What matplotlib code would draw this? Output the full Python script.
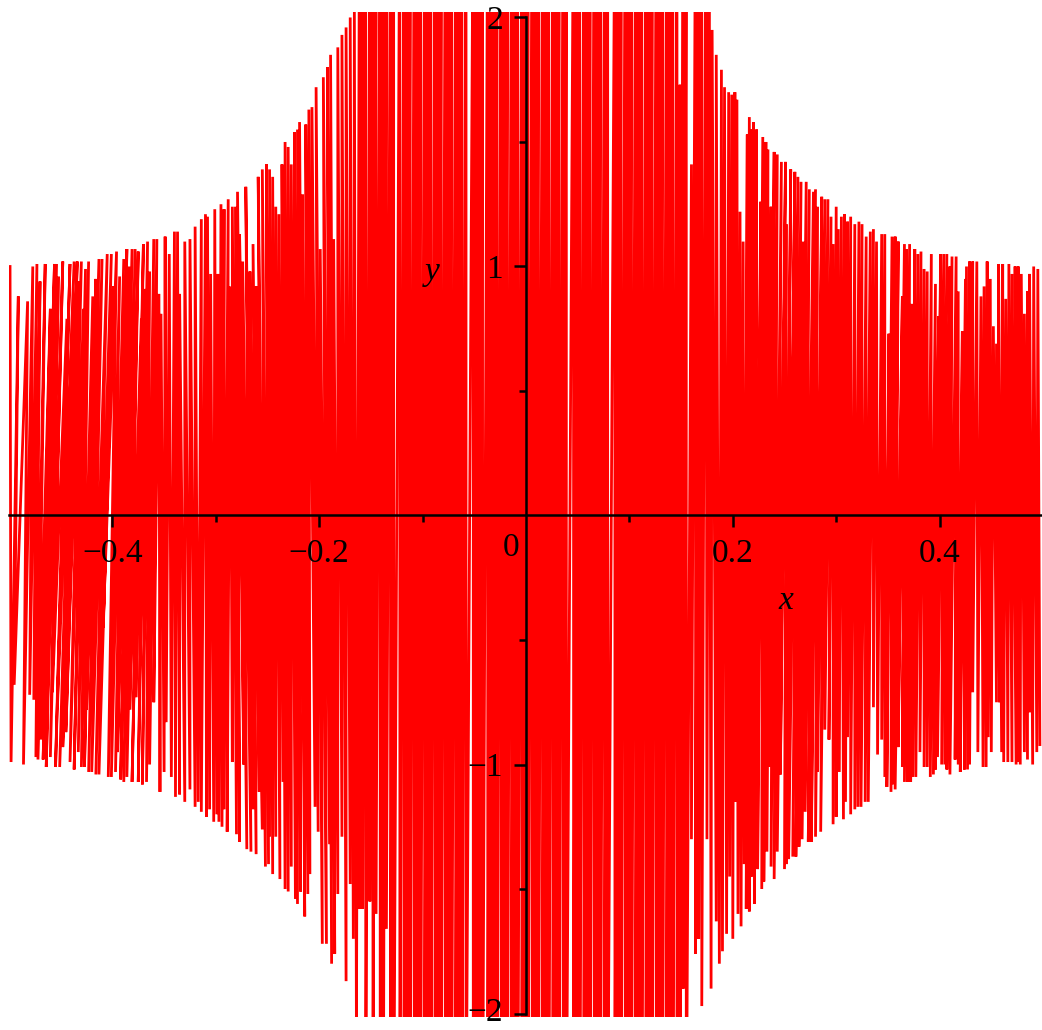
import matplotlib
matplotlib.use("Agg")
import matplotlib.pyplot as plt
from matplotlib.transforms import ScaledTranslation

# ---------------- data (data units) ----------------
# Turning points of the oscillating curve: upper ends (peaks) and lower ends
# (troughs), region by region from left to right.

left_edge_top_x = [-0.499, -0.491, -0.482, -0.477, -0.473, -0.470, -0.465, -0.460, -0.456, -0.454,
                   -0.452, -0.448, -0.444, -0.441, -0.437, -0.434, -0.432, -0.430, -0.428, -0.426,
                   -0.423, -0.419, -0.416, -0.413, -0.410, -0.405, -0.401, -0.399, -0.396, -0.393,
                   -0.389, -0.386, -0.384, -0.381, -0.378, -0.375, -0.372, -0.370, -0.368, -0.366,
                   -0.364, -0.360, -0.357, -0.355, -0.353, -0.349, -0.345, -0.340, -0.337, -0.335,
                   -0.330, -0.325, -0.320]
left_edge_top_y = [1.00, 0.88, 0.86, 1.00, 1.01, 0.94, 1.01, 0.83, 1.01, 1.01,
                   0.96, 1.02, 0.79, 1.01, 1.02, 1.02, 0.94, 1.02, 0.83, 0.99,
                   1.02, 0.88, 0.95, 1.03, 1.03, 1.05, 1.05, 0.92, 1.06, 0.96,
                   1.03, 1.07, 1.00, 1.07, 1.07, 1.06, 0.79, 1.09, 0.91, 1.10,
                   0.98, 1.11, 1.11, 0.89, 0.81, 1.12, 1.05, 1.14, 1.14, 0.89,
                   1.10, 1.11, 1.16]
left_edge_bot_x = [-0.498, -0.495, -0.486, -0.480, -0.476, -0.474, -0.472, -0.469, -0.467, -0.464,
                   -0.460, -0.458, -0.455, -0.453, -0.451, -0.448, -0.445, -0.441, -0.437, -0.433,
                   -0.430, -0.427, -0.425, -0.423, -0.420, -0.416, -0.413, -0.409, -0.404, -0.401,
                   -0.397, -0.395, -0.392, -0.389, -0.386, -0.383, -0.381, -0.377, -0.375, -0.371,
                   -0.367, -0.364, -0.360, -0.354, -0.350, -0.348, -0.343, -0.339, -0.335, -0.330,
                   -0.325, -0.320, -0.317]
left_edge_bot_y = [-0.99, -0.68, -1.00, -0.72, -0.74, -0.97, -0.98, -0.90, -0.98, -1.01,
                   -0.97, -0.71, -1.01, -0.75, -1.01, -0.93, -0.87, -0.99, -1.02, -0.95,
                   -1.01, -1.01, -0.78, -1.03, -1.03, -1.04, -1.04, -0.45, -1.05, -1.05,
                   -1.03, -0.95, -1.06, -1.07, -1.05, -0.78, -1.07, -0.73, -1.07, -1.08,
                   -1.07, -1.00, -0.75, -1.11, -1.03, -0.83, -1.05, -1.13, -1.12, -1.15,
                   -1.10, -1.17, -1.15]

left_mid_top_x = [-0.314, -0.310, -0.308, -0.305, -0.301, -0.298, -0.295, -0.292, -0.288, -0.286,
                  -0.284, -0.281, -0.279, -0.277, -0.274, -0.271, -0.267, -0.264, -0.261, -0.259,
                  -0.255, -0.251, -0.248, -0.245, -0.242, -0.239, -0.236, -0.233, -0.230, -0.227,
                  -0.224, -0.221, -0.219, -0.216, -0.213, -0.210, -0.207, -0.203, -0.199, -0.196,
                  -0.192, -0.189, -0.186, -0.182, -0.178, -0.174, -0.170, -0.166]
left_mid_top_y = [1.19, 1.21, 1.20, 0.97, 1.23, 0.97, 1.25, 1.23, 1.27, 0.92,
                  1.24, 1.24, 1.30, 1.13, 1.02, 1.32, 0.98, 1.09, 0.92, 1.36,
                  1.39, 1.41, 1.39, 1.36, 1.24, 1.21, 1.41, 1.50, 1.48, 1.41,
                  1.54, 1.55, 1.58, 1.29, 1.57, 1.63, 1.64, 1.72, 1.07, 1.76,
                  1.80, 1.85, 1.11, 1.88, 1.93, 1.96, 2.00, 2.03]
left_mid_bot_x = [-0.314, -0.309, -0.306, -0.302, -0.299, -0.297, -0.294, -0.292, -0.289, -0.284,
                  -0.280, -0.277, -0.273, -0.270, -0.266, -0.264, -0.261, -0.258, -0.255, -0.252,
                  -0.249, -0.248, -0.245, -0.242, -0.238, -0.235, -0.233, -0.230, -0.227, -0.223,
                  -0.221, -0.218, -0.214, -0.211, -0.209, -0.204, -0.201, -0.197, -0.193, -0.190,
                  -0.188, -0.185, -0.182, -0.178, -0.174, -0.170, -0.167, -0.164]
left_mid_bot_y = [-1.19, -1.21, -1.18, -1.23, -1.20, -1.23, -1.25, -1.18, -1.27, -0.99,
                  -1.28, -1.31, -1.00, -1.34, -1.35, -1.18, -1.36, -1.11, -1.26, -1.41,
                  -1.40, -1.29, -1.44, -1.29, -1.46, -1.07, -1.50, -1.51, -1.41, -1.54,
                  -1.56, -1.51, -1.61, -1.52, -1.44, -1.17, -1.27, -1.72, -1.72, -1.32,
                  -1.80, -1.76, -1.52, -1.29, -1.87, -1.48, -1.70, -2.10]

# central band: the curve runs off the view (|y| > 2) almost everywhere
center_x = [-0.161, -0.158, -0.155, -0.151, -0.148, -0.145, -0.141, -0.138, -0.135, -0.131,
            -0.128, -0.122, -0.118, -0.115, -0.112, -0.108, -0.105, -0.102, -0.098, -0.095,
            -0.092, -0.088, -0.085, -0.082, -0.078, -0.075, -0.072, -0.068, -0.065, -0.062,
            -0.058, -0.051, -0.048, -0.045, -0.042, -0.037, -0.034, -0.031, -0.028, -0.024,
            -0.021, -0.018, -0.014, -0.011, -0.008, -0.004, -0.001, 0.002, 0.006, 0.009,
            0.012, 0.016, 0.019, 0.022, 0.026, 0.029, 0.032, 0.036, 0.039, 0.046,
            0.049, 0.052, 0.056, 0.059, 0.062, 0.066, 0.069, 0.072, 0.076, 0.079,
            0.086, 0.089, 0.092, 0.096, 0.099, 0.102, 0.106, 0.109, 0.112, 0.116,
            0.119, 0.122, 0.126, 0.129, 0.132, 0.136, 0.139, 0.142, 0.146, 0.149,
            0.152, 0.155, 0.160, 0.164, 0.167, 0.170]
center_top = [2.6, 2.6, 2.6, 2.6, 2.6, 2.6, 2.6, 2.6, 2.6, 2.6,
              2.6, 2.6, 2.6, 2.6, 2.6, 2.6, 2.6, 2.6, 2.6, 2.6,
              2.6, 2.6, 2.6, 2.6, 2.6, 2.6, 2.6, 2.6, 2.6, 2.6,
              2.6, 2.6, 2.6, 2.6, 2.6, 2.6, 2.6, 2.6, 2.6, 2.6,
              2.6, 2.6, 2.6, 2.6, 2.6, 2.6, 2.6, 2.6, 2.6, 2.6,
              2.6, 2.6, 2.6, 2.6, 2.6, 2.6, 2.6, 2.6, 2.6, 2.6,
              2.6, 2.6, 2.6, 2.6, 2.6, 2.6, 2.6, 2.6, 2.6, 2.6,
              2.6, 2.6, 2.6, 2.6, 2.6, 2.6, 2.6, 2.6, 2.6, 2.6,
              2.6, 2.6, 2.6, 2.6, 2.6, 2.6, 2.6, 2.6, 2.6, 1.73,
              2.6, 2.6, 1.41, 2.6, 2.6, 2.6]
center_bot = [-1.58, -1.58, -2.6, -1.55, -2.6, -1.60, -2.6, -2.6, -1.66, -2.6,
              -2.6, -2.6, -2.6, -2.6, -2.6, -2.6, -2.6, -2.6, -2.6, -2.6,
              -2.6, -2.6, -2.6, -2.6, -2.6, -2.6, -2.6, -2.6, -2.6, -2.6,
              -2.6, -2.6, -2.6, -2.6, -2.6, -2.6, -2.6, -2.6, -2.6, -2.6,
              -2.6, -2.6, -2.6, -2.6, -2.6, -2.6, -2.6, -2.6, -2.6, -2.6,
              -2.6, -2.6, -2.6, -2.6, -2.6, -2.6, -2.6, -2.6, -2.6, -2.6,
              -2.6, -2.6, -2.6, -2.6, -2.6, -2.6, -2.6, -2.6, -2.6, -2.6,
              -2.6, -2.6, -2.6, -2.6, -2.6, -2.6, -2.6, -2.6, -2.6, -2.6,
              -2.6, -2.6, -2.6, -2.6, -2.6, -2.6, -2.6, -2.6, -2.6, -2.6,
              -1.90, -2.6, -1.30, -1.76, -1.70, -1.97]

right_mid_top_x = [0.174, 0.177, 0.180, 0.184, 0.189, 0.192, 0.196, 0.199, 0.202, 0.204,
                   0.207, 0.210, 0.214, 0.216, 0.218, 0.220, 0.221, 0.223, 0.227, 0.229,
                   0.232, 0.234, 0.237, 0.240, 0.243, 0.247, 0.251, 0.252, 0.256, 0.260,
                   0.263, 0.266, 0.268, 0.271, 0.274, 0.278, 0.280, 0.282, 0.286, 0.289,
                   0.292, 0.295, 0.297, 0.300, 0.302, 0.305, 0.308, 0.311, 0.314, 0.318,
                   0.322, 0.325, 0.329, 0.333, 0.336, 0.339]
right_mid_top_y = [2.60, 2.20, 1.95, 1.85, 1.79, 1.72, 1.70, 1.69, 1.70, 1.67,
                   1.22, 1.10, 1.53, 1.60, 1.55, 1.58, 1.54, 1.55, 1.26, 1.52,
                   1.50, 1.47, 1.24, 1.46, 1.45, 1.42, 1.42, 1.17, 1.39, 1.38,
                   1.36, 1.34, 1.10, 1.34, 1.31, 1.30, 1.31, 1.24, 1.28, 1.27,
                   1.27, 1.20, 1.09, 1.24, 1.15, 1.20, 1.21, 1.18, 1.20, 1.17,
                   1.18, 1.17, 1.12, 1.14, 1.15, 1.10]
right_mid_bot_x = [0.175, 0.179, 0.184, 0.187, 0.190, 0.194, 0.197, 0.200, 0.202, 0.205,
                   0.208, 0.211, 0.213, 0.216, 0.218, 0.220, 0.221, 0.222, 0.224, 0.228,
                   0.230, 0.233, 0.235, 0.237, 0.240, 0.243, 0.246, 0.250, 0.252, 0.254,
                   0.258, 0.261, 0.264, 0.267, 0.270, 0.273, 0.276, 0.280, 0.282, 0.285,
                   0.289, 0.293, 0.297, 0.300, 0.303, 0.307, 0.309, 0.311, 0.314, 0.318,
                   0.321, 0.324, 0.328, 0.331, 0.336, 0.340]
right_mid_bot_y = [-1.30, -1.90, -1.63, -1.80, -1.75, -1.68, -1.45, -1.70, -1.15, -1.60,
                   -1.65, -1.40, -1.58, -1.59, -1.45, -1.30, -1.56, -1.26, -1.42, -1.50,
                   -1.47, -1.35, -1.01, -1.41, -1.46, -1.35, -1.04, -1.42, -1.40, -1.38,
                   -1.37, -1.37, -1.33, -1.30, -1.19, -1.31, -1.31, -1.29, -1.03, -1.27,
                   -0.86, -0.90, -1.24, -1.21, -1.03, -1.22, -1.15, -0.89, -1.20, -1.18,
                   -1.17, -1.17, -1.15, -1.15, -0.77, -0.96]

right_edge_top_x = [0.344, 0.347, 0.351, 0.354, 0.357, 0.360, 0.364, 0.366, 0.368, 0.371,
                    0.373, 0.376, 0.379, 0.382, 0.385, 0.388, 0.392, 0.396, 0.399, 0.401,
                    0.404, 0.407, 0.410, 0.412, 0.416, 0.418, 0.422, 0.425, 0.426, 0.429,
                    0.432, 0.436, 0.440, 0.443, 0.446, 0.449, 0.452, 0.455, 0.457, 0.461,
                    0.464, 0.467, 0.470, 0.473, 0.476, 0.479, 0.482, 0.485, 0.487, 0.491,
                    0.495]
right_edge_top_y = [1.13, 1.13, 0.73, 1.12, 1.12, 1.10, 0.88, 1.09, 1.07, 1.09,
                    0.85, 1.07, 1.05, 1.06, 0.99, 0.98, 1.05, 0.93, 0.80, 1.05,
                    1.05, 1.05, 1.00, 1.04, 1.04, 0.90, 0.74, 0.95, 1.00, 1.02,
                    1.02, 1.02, 0.88, 0.92, 1.02, 0.95, 0.76, 0.69, 1.01, 1.01,
                    0.87, 1.01, 0.97, 1.00, 1.00, 0.97, 0.81, 0.90, 0.97, 1.00,
                    0.99]
right_edge_bot_x = [0.344, 0.347, 0.349, 0.353, 0.355, 0.357, 0.360, 0.364, 0.366, 0.369,
                    0.372, 0.374, 0.377, 0.381, 0.385, 0.388, 0.391, 0.394, 0.396, 0.398,
                    0.402, 0.405, 0.407, 0.410, 0.415, 0.418, 0.420, 0.424, 0.427, 0.429,
                    0.432, 0.437, 0.442, 0.445, 0.447, 0.450, 0.455, 0.458, 0.460, 0.462,
                    0.466, 0.470, 0.474, 0.476, 0.478, 0.482, 0.485, 0.487, 0.490, 0.494,
                    0.497]
right_edge_bot_y = [-0.90, -1.05, -1.09, -1.11, -1.08, -1.10, -0.93, -1.01, -1.07, -1.07,
                    -1.07, -1.05, -1.05, -0.95, -1.01, -1.01, -1.05, -1.04, -1.02, -0.97,
                    -1.00, -1.00, -1.02, -1.04, -0.98, -1.00, -1.03, -1.02, -1.02, -1.00,
                    -0.71, -0.95, -1.01, -1.01, -0.89, -0.95, -0.75, -0.75, -0.95, -0.99,
                    -0.99, -0.99, -1.00, -0.99, -1.00, -0.95, -0.98, -0.79, -1.00, -0.95,
                    -0.92]

x_tick_values = [-0.4, -0.2, 0.2, 0.4]
x_tick_labels = ["\u22120.4", "\u22120.2", "0.2", "0.4"]
x_minor_values = [-0.3, -0.1, 0.1, 0.3]
y_tick_values = [-2, -1, 1, 2]
y_tick_labels = ["\u22122", "\u22121", "1", "2"]
y_minor_values = [-1.5, -0.5, 0.5, 1.5]


# ---------------- build the zig-zag path ----------------
def zigzag(tx, ty, bx, by):
    xs, ys = [], []
    for i in range(min(len(tx), len(bx))):
        xs += [tx[i], bx[i]]
        ys += [ty[i], by[i]]
    return xs, ys


segments = [
    (left_edge_top_x, left_edge_top_y, left_edge_bot_x, left_edge_bot_y),
    (left_mid_top_x, left_mid_top_y, left_mid_bot_x, left_mid_bot_y),
    (center_x, center_top, center_x, center_bot),
    (right_mid_top_x, right_mid_top_y, right_mid_bot_x, right_mid_bot_y),
    (right_edge_top_x, right_edge_top_y, right_edge_bot_x, right_edge_bot_y),
]
px, py = [], []
for seg in segments:
    a, b = zigzag(*seg)
    px += a
    py += b

# ---------------- figure ----------------
SERIF = ["Liberation Serif", "DejaVu Serif"]
plt.rcParams["font.family"] = SERIF

fig = plt.figure(figsize=(10.42, 10.30), dpi=100)
ax = fig.add_axes([9 / 1042, 13 / 1030, 1034 / 1042, 1005 / 1030])
ax.set_xlim(-0.5, 0.5)
ax.set_ylim(-2.014, 2.022)

ax.plot(px, py, color="#ff0000", lw=2.0, solid_joinstyle="miter", zorder=1)

ax.set_axisbelow(False)
for s in ("top", "right"):
    ax.spines[s].set_visible(False)
ax.spines["bottom"].set_position(("data", 0))
ax.spines["left"].set_position(("data", 0))
ax.spines["left"].set_bounds(-2, 2)
for s in ("bottom", "left"):
    ax.spines[s].set_linewidth(1.8)
    ax.spines[s].set_zorder(3)

ax.set_xticks(x_tick_values)
ax.set_xticklabels(x_tick_labels)
ax.set_xticks(x_minor_values, minor=True)
ax.set_yticks(y_tick_values)
ax.set_yticklabels(y_tick_labels)
ax.set_yticks(y_minor_values, minor=True)

ax.tick_params(which="major", direction="out", length=8.5, width=1.8,
               labelsize=24, pad=8)
ax.tick_params(which="minor", direction="out", length=5, width=1.8)

# keep the lowest y label fully inside the picture
low_label = ax.yaxis.get_major_ticks()[0].label1
low_label.set_transform(low_label.get_transform()
                        + ScaledTranslation(0, 4 / 100, fig.dpi_scale_trans))

ax.text(-0.014, -0.128, "0", fontsize=24, ha="center", va="center", zorder=4)
ax.text(0.2515, -0.343, "x", fontsize=24, fontstyle="italic",
        ha="center", va="center", zorder=4)
ax.text(-0.0909, 0.978, "y", fontsize=24, fontstyle="italic",
        ha="center", va="center", zorder=4)

fig.savefig("out.png", dpi=100)
